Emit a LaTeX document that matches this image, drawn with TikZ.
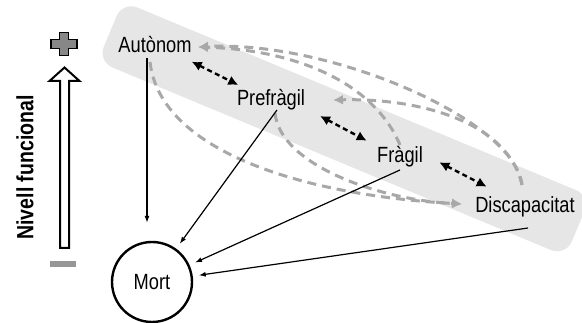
\documentclass[tikz,border=0pt]{standalone}
\usepackage{fontspec}
\setmainfont{Liberation Sans}
\newfontfamily\labfont[FakeStretch=0.83]{Liberation Sans}
\usetikzlibrary{arrows.meta,calc}
\definecolor{bandgray}{RGB}{230,230,231}
\definecolor{curvegray}{RGB}{168,168,168}
\definecolor{plusgray}{RGB}{135,135,135}
\definecolor{minusgray}{RGB}{150,150,150}
\tikzset{
  lbl/.style={font=\labfont\fontsize{22}{24}\selectfont, inner sep=0pt},
  bandbox/.style={fill=bandgray, draw=none, rounded corners=16pt, rotate=-22.6,
                  minimum width=507pt, minimum height=65pt, inner sep=0pt},
  dd/.style={line width=2.4pt, dash pattern=on 5pt off 3.5pt,
             {Latex[length=10pt,width=10pt]}-{Latex[length=10pt,width=10pt]}},
  gd/.style={draw=curvegray, line width=3pt, dash pattern=on 9pt off 6pt,
             -{Latex[length=10pt,width=10pt]}},
  dm/.style={line width=1.2pt, -{Latex[length=7pt,width=5pt]}},
}
\begin{document}
\begin{tikzpicture}[x=1pt,y=-1pt]
\useasboundingbox (0,0) rectangle (582,323);
% band
\node[bandbox] (band) at (344.2,128.8) {};
% states
\node[lbl, anchor=base] (auto) at (155,53) {Autònom};
\node[lbl, anchor=base] (pre) at (271,106) {Prefràgil};
\node[lbl, anchor=base] (fra) at (400,163) {Fràgil};
\node[lbl, anchor=base] (dis) at (525,213) {Discapacitat};
\node[circle, draw, line width=2.4pt, minimum size=80pt, inner sep=0pt,
      font=\labfont\fontsize{22}{24}\selectfont] (mort) at (152,282) {Mort};
% axis
\node[rotate=90, anchor=base, inner sep=0pt,
      font=\labfont\bfseries\fontsize{23.5}{25}\selectfont] (nf) at (33.3,167.5) {Nivell funcional};
\draw[line width=2pt, fill=white, line join=miter]
  (60,248) -- (60,81) -- (49.5,81) -- (64.5,67.5) -- (79.5,81) -- (69,81) -- (69,248) -- cycle;
\draw[line width=1.6pt, fill=plusgray]
  (59.5,32.5) -- (68.5,32.5) -- (68.5,39.5) -- (77,39.5) -- (77,48.5) -- (68.5,48.5)
  -- (68.5,55.5) -- (59.5,55.5) -- (59.5,48.5) -- (51,48.5) -- (51,39.5) -- (59.5,39.5) -- cycle;
\fill[minusgray] (50,260.7) rectangle (76,267.3);
% gray dashed transitions
\draw[gd] ($(dis.base)+(-3,-28)$) .. controls (515,120) and (330,40) .. ($(auto.base)+(43,-6)$);
\draw[gd] ($(fra.base)+(0,-18)$) .. controls (375,85) and (300,50) .. ($(auto.base)+(43,-6)$);
\draw[gd] ($(dis.base)+(-3,-28)$) .. controls (508,122) and (420,98) .. ($(pre.base)+(62,-6)$);
\draw[gd] ($(auto.base)+(-5,9)$) .. controls (160,150) and (300,195) .. ($(dis.base)+(-63,-9)$);
\draw[gd] ($(pre.base)+(4,7)$) .. controls (280,165) and (380,200) .. ($(dis.base)+(-63,-9)$);
% black dashed double arrows
\draw[dd] ($(auto.base)+(36.7,8.7)$) -- ($(pre.base)+(-32.7,-21)$);
\draw[dd] ($(pre.base)+(49,10)$) -- ($(fra.base)+(-33.3,-22.3)$);
\draw[dd] ($(fra.base)+(39.3,-0.7)$) -- ($(dis.base)+(-38.3,-26.3)$);
% to death
\draw[dm, shorten >=18pt] ($(auto.base)+(-8,5)$) -- ($(mort.north)+(-5,0)$);
\draw[dm, shorten >=6pt] ($(pre.base)+(6,4)$) -- (mort);
\draw[dm, shorten >=6pt] ($(fra.base)+(0,7)$) -- (mort);
\draw[dm, shorten >=6pt] ($(dis.base)+(3,15)$) -- (mort);
\end{tikzpicture}
\end{document}
